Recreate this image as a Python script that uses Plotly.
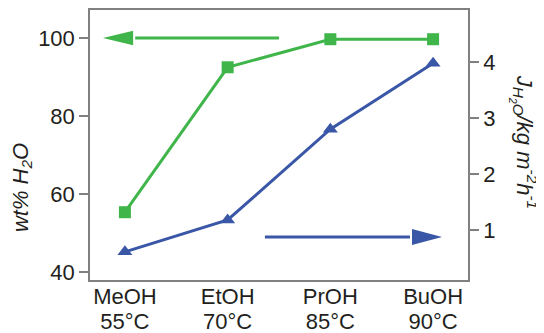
import plotly.graph_objects as go

solvents = ["MeOH", "EtOH", "PrOH", "BuOH"]
temperatures = ["55°C", "70°C", "85°C", "90°C"]
wt_h2o = [55.3, 92.5, 99.7, 99.7]
flux = [0.61, 1.18, 2.80, 3.98]
left_ticks = [40, 60, 80, 100]
right_ticks = [1, 2, 3, 4]

GREEN = "#3fb54a"
BLUE = "#3a57a7"
FRAME = "#808080"
TXT = "#231f20"
FONT = "Liberation Sans, Arial, Helvetica, sans-serif"
FS = 22

xs = list(range(len(solvents)))

fig = go.Figure()
fig.add_trace(go.Scatter(x=xs, y=wt_h2o, mode="lines+markers",
                         line=dict(color=GREEN, width=3),
                         marker=dict(symbol="square", size=12, color=GREEN),
                         yaxis="y", showlegend=False))
fig.add_trace(go.Scatter(x=xs, y=flux, mode="lines+markers",
                         line=dict(color=BLUE, width=3),
                         marker=dict(symbol="triangle-up", size=13, color=BLUE),
                         yaxis="y2", showlegend=False))
# carrier for the second row of category labels (temperatures)
fig.add_trace(go.Scatter(x=xs, y=[None] * len(xs), xaxis="x2", yaxis="y",
                         mode="markers", showlegend=False, hoverinfo="skip"))

# arrows indicating which axis each series belongs to
g_y = 100
g_tail, g_base, g_tip = 1.50, 0.08, -0.214
b_y = 0.875
b_tail, b_base, b_tip = 1.363, 2.795, 3.087

shapes = [
    dict(type="line", xref="x", yref="y", x0=g_tail, x1=g_base + 0.02, y0=g_y, y1=g_y,
         line=dict(color=GREEN, width=3)),
    dict(type="path", xref="x", yref="y",
         path=f"M{g_tip},{g_y} L{g_base},{g_y + 1.85} L{g_base},{g_y - 1.85} Z",
         fillcolor=GREEN, line=dict(width=0)),
    dict(type="line", xref="x", yref="y2", x0=b_tail, x1=b_base - 0.02, y0=b_y, y1=b_y,
         line=dict(color=BLUE, width=3)),
    dict(type="path", xref="x", yref="y2",
         path=f"M{b_tip},{b_y} L{b_base},{b_y + 0.145} L{b_base},{b_y - 0.145} Z",
         fillcolor=BLUE, line=dict(width=0)),
]

xr = [-0.34, 3.34]

# the page body adds an 8px offset, so the figure is 8px smaller and margins shifted
fig.update_layout(
    width=536, height=325,
    margin=dict(l=82, r=76, t=2, b=53),
    plot_bgcolor="white", paper_bgcolor="white",
    font=dict(family=FONT, size=FS, color=TXT),
    shapes=shapes,
    xaxis=dict(range=xr, tickvals=xs, ticktext=solvents, ticklabelstandoff=-4,
               showline=True, mirror=True, linecolor=FRAME, linewidth=1.5,
               showgrid=False, zeroline=False, ticks="", automargin=False,
               tickfont=dict(size=FS, color=TXT)),
    xaxis2=dict(range=xr, overlaying="x", side="bottom", anchor="y",
                tickvals=xs, ticktext=temperatures, ticklabelstandoff=26,
                showline=False, showgrid=False, zeroline=False, ticks="",
                automargin=False, tickfont=dict(size=FS, color=TXT)),
    yaxis=dict(range=[37.9, 107.2], tickvals=left_ticks, automargin=False,
               showline=True, linecolor=FRAME, linewidth=1.5,
               showgrid=False, zeroline=False, ticks="outside", ticklen=9,
               tickcolor=FRAME, tickwidth=1.5, tickfont=dict(size=FS, color=TXT)),
    yaxis2=dict(range=[0.107, 4.93], tickvals=right_ticks, overlaying="y", side="right",
                showline=True, linecolor=FRAME, linewidth=1.5, automargin=False,
                showgrid=False, zeroline=False, ticks="outside", ticklen=9,
                tickcolor=FRAME, tickwidth=1.5, tickfont=dict(size=FS, color=TXT)),
    annotations=[
        dict(text="<i>wt% H<sub>2</sub>O</i>", xref="paper", yref="paper",
             x=-0.18, y=0.344, textangle=-90, showarrow=False,
             font=dict(size=FS, color=TXT), xanchor="center", yanchor="middle"),
        dict(text="<i>J<sub>H<sub>2</sub>O</sub>/kg m<sup>-2</sup>h<sup>-1</sup></i>",
             xref="paper", yref="paper", x=1.148, y=0.509, textangle=90,
             showarrow=False, font=dict(size=FS, color=TXT),
             xanchor="center", yanchor="middle"),
    ],
)

fig.write_html("out.html")
